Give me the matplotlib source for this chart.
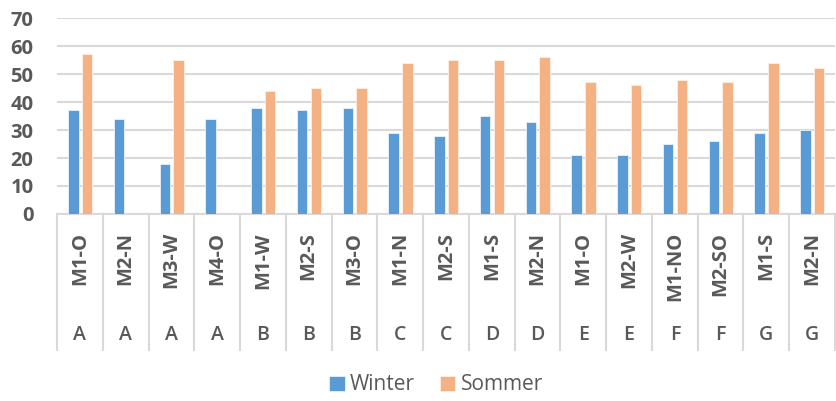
import numpy as np
import matplotlib
matplotlib.use('Agg')
import matplotlib.pyplot as plt
import matplotlib.transforms as mtransforms

# data
stations = ['M1-O', 'M2-N', 'M3-W', 'M4-O', 'M1-W', 'M2-S', 'M3-O', 'M1-N', 'M2-S',
            'M1-S', 'M2-N', 'M1-O', 'M2-W', 'M1-NO', 'M2-SO', 'M1-S', 'M2-N']
groups = ['A', 'A', 'A', 'A', 'B', 'B', 'B', 'C', 'C', 'D', 'D', 'E', 'E', 'F', 'F', 'G', 'G']
winter = [37, 34, 18, 34, 38, 37, 38, 29, 28, 35, 33, 21, 21, 25, 26, 29, 30]
sommer = [57, np.nan, 55, np.nan, 44, 45, 45, 54, 55, 55, 56, 47, 46, 48, 47, 54, 52]

c_winter = '#5B9BD5'
c_sommer = '#F4B183'
txt = '#595959'
grid = '#D9D9D9'

plt.rcParams['font.family'] = ['Open Sans', 'DejaVu Sans']

fig = plt.figure(figsize=(8.37, 4.01), dpi=100)
ax = fig.add_axes([57 / 837, 1 - 214 / 401, 778 / 837, 196 / 401])

x = np.arange(len(stations))
w = 0.23
ax.bar(x - 0.145, winter, w, color=c_winter, edgecolor='#EAF2FA', linewidth=0.6, label='Winter', zorder=3)
ax.bar(x + 0.155, sommer, w, color=c_sommer, edgecolor='#FCEFE5', linewidth=0.6, label='Sommer', zorder=3)

ax.set_xlim(-0.5, len(stations) - 0.5)
ax.set_ylim(0, 70)
ax.set_yticks(range(0, 71, 10))
ax.yaxis.grid(True, color=grid, linewidth=1.5)
ax.set_axisbelow(True)
for s in ['top', 'right', 'left']:
    ax.spines[s].set_visible(False)
ax.spines['bottom'].set_color(grid)
ax.spines['bottom'].set_linewidth(1.5)
ax.tick_params(axis='y', length=0, pad=17, labelsize=14.5, labelcolor=txt)
for lab in ax.get_yticklabels():
    lab.set_fontweight('bold')
ax.set_xticks([])

# two-level category axis
trans = mtransforms.blended_transform_factory(ax.transData, ax.transAxes)
for i in range(len(stations) + 1):
    ax.plot([i - 0.5, i - 0.5], [0, -0.694], transform=trans, color=grid,
            linewidth=1.5, clip_on=False)
for i, (st, g) in enumerate(zip(stations, groups)):
    ax.text(i, -0.092, st, transform=trans, rotation=90, ha='center', va='top',
            fontsize=14.5, fontweight='bold', color=txt)
    ax.text(i, -0.617, g, transform=trans, ha='center', va='center',
            fontsize=14, fontweight='semibold', color=txt)

fig.legend(loc='center', bbox_to_anchor=(436 / 837, 1 - 385 / 401), ncol=2,
           frameon=False, fontsize=15, labelcolor=txt, handlelength=0.75,
           handleheight=0.75, handletextpad=0.25, columnspacing=1.2)

fig.savefig('out.png', dpi=100)
